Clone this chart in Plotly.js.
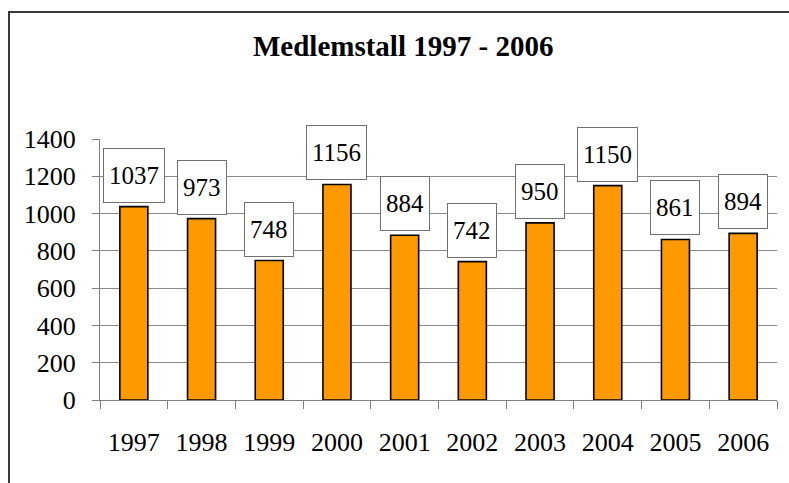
<!DOCTYPE html>
<html>
<head>
<meta charset="utf-8">
<script src="https://cdn.plot.ly/plotly-3.0.1.min.js"></script>
<style>
  html, body { margin: 0; padding: 0; background: #ffffff; }
  #chart { width: 789px; height: 483px; position: absolute; left: 0; top: 0; }
  #frame { position: absolute; left: 8px; top: 11px; width: 800px; height: 500px;
           border-top: 2px solid #3a3a3a; border-left: 2px solid #3a3a3a; pointer-events: none; }
</style>
</head>
<body>
<div id="chart"></div>
<div id="frame"></div>
<script>
const years = ["1997", "1998", "1999", "2000", "2001", "2002", "2003", "2004", "2005", "2006"];
const members = [1037, 973, 748, 1156, 884, 742, 950, 1150, 861, 894];
const yTicks = [0, 200, 400, 600, 800, 1000, 1200, 1400];

const fontFam = "Liberation Serif, Times New Roman, serif";

const trace = {
  type: "bar",
  x: years,
  y: members,
  marker: { color: "#FF9900", line: { color: "#000000", width: 1.6 } },
  hoverinfo: "skip"
};

const annotations = years.map((yr, i) => ({
  x: i,
  y: members[i],
  xref: "x",
  yref: "y",
  text: String(members[i]),
  showarrow: false,
  yanchor: "bottom",
  xanchor: "center",
  yshift: 4,
  bgcolor: "#ffffff",
  bordercolor: "#707070",
  borderwidth: 1,
  borderpad: 5,
  height: 43,
  valign: "middle",
  font: { family: fontFam, size: 25, color: "#000000" }
}));

const layout = {
  width: 789,
  height: 483,
  margin: { l: 100, r: 12, t: 139, b: 83 },
  paper_bgcolor: "#ffffff",
  plot_bgcolor: "#ffffff",
  showlegend: false,
  bargap: 0.586,
  title: {
    text: "<b>Medlemstall 1997 - 2006</b>",
    font: { family: fontFam, size: 29, color: "#000000" },
    xref: "container", yref: "container",
    x: 0.511, y: 0.905, xanchor: "center", yanchor: "middle"
  },
  xaxis: {
    type: "category",
    range: [-0.5, years.length - 0.5],
    showgrid: false,
    showline: true,
    linecolor: "#808080",
    linewidth: 1,
    ticks: "outside",
    tickson: "boundaries",
    ticklen: 8,
    tickcolor: "#808080",
    tickwidth: 1,
    tickangle: 0,
    ticklabelstandoff: 19,
    tickfont: { family: fontFam, size: 26, color: "#000000" },
    zeroline: false
  },
  yaxis: {
    range: [0, 1400],
    tickvals: yTicks,
    ticktext: yTicks.map(String),
    showgrid: true,
    gridcolor: "#8a8a8a",
    gridwidth: 1,
    showline: true,
    linecolor: "#808080",
    linewidth: 1,
    ticks: "outside",
    ticklen: 7,
    tickcolor: "#808080",
    tickwidth: 1,
    ticklabelstandoff: 11,
    tickfont: { family: fontFam, size: 26, color: "#000000" },
    zeroline: false
  },
  annotations: annotations
};

Plotly.newPlot("chart", [trace], layout, { staticPlot: true, displayModeBar: false });
</script>
</body>
</html>
